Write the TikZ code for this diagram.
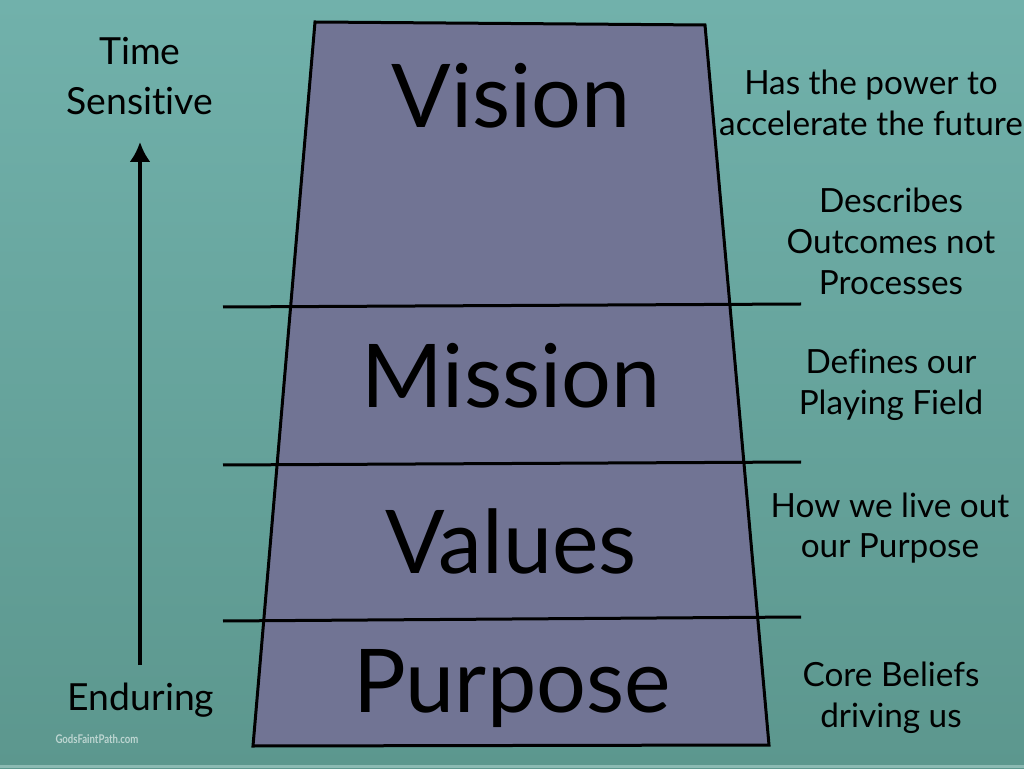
\documentclass[tikz,border=0pt]{standalone}
\usepackage{fontspec}
\setmainfont{Lato}[Ligatures={NoCommon,NoRare}]
\usetikzlibrary{arrows.meta}
\definecolor{fondhaut}{RGB}{113,177,171}
\definecolor{fondbas}{RGB}{92,151,142}
\definecolor{bande}{RGB}{140,186,179}
\definecolor{trapeze}{RGB}{113,116,148}
\definecolor{filigrane}{RGB}{190,214,210}
\begin{document}
\begin{tikzpicture}[x=0.75pt,y=0.75pt,
	mot/.style={font=\fontsize{66}{66}\selectfont,anchor=base},
	cote/.style={font=\fontsize{28}{37.5}\selectfont,align=center,anchor=base},
	note/.style={font=\fontsize{25}{30.75}\selectfont,align=center,anchor=base}]
		\useasboundingbox (0,0) rectangle (1024,768);
		%fond
		\shade[bottom color=fondbas,top color=fondhaut] (0,0) rectangle (1024,768);
		\fill[bande] (0,0) rectangle (1024,3);
		%trapeze
		\draw[line width=2.25pt,line join=miter,fill=trapeze] (315,746)--(705,743)--(769,23)--(253,22)--cycle;
		\draw[line width=2.25pt] (223,461)--(801,464) (223,303)--(801,306) (223,147)--(801,151);
		%niveaux
		\foreach \Point/\Nom/\Texte in {(511,640)/vision/Vision,(511,360)/mission/Mission,(511,195)/values/Values,(512,56)/purpose/Purpose}%
		\node[mot] (\Nom) at \Point {\Texte};
		%notes (ancre = ligne du bas)
		\foreach \Point/\Nom/\Texte in {(871,632)/power/{Has the power to\\accelerate the future},(891,473)/outcomes/{Describes\\Outcomes not\\Processes},(891,353)/field/{Defines our\\Playing Field},(890,210)/liveout/{How we live out\\our Purpose},(891,41)/beliefs/{Core Beliefs\\driving us}}%
		\node[note] (\Nom) at \Point {\Texte};
		%axe du temps
		\node[cote] (time) at (140,653) {Time\\Sensitive};
		\node[cote] (enduring) at (141,58) {Enduring};
		\coordinate (pied) at (140,103);
		\coordinate (pointe) at (140,626);
		\draw[line width=3pt,-{Latex[length=15pt,width=16pt]}] (pied)--(pointe);
		\node[font=\bfseries\fontsize{9}{9}\selectfont,text=filigrane,anchor=base,xscale=0.8] (site) at (97,25) {GodsFaintPath.com};
	\end{tikzpicture}
\end{document}
